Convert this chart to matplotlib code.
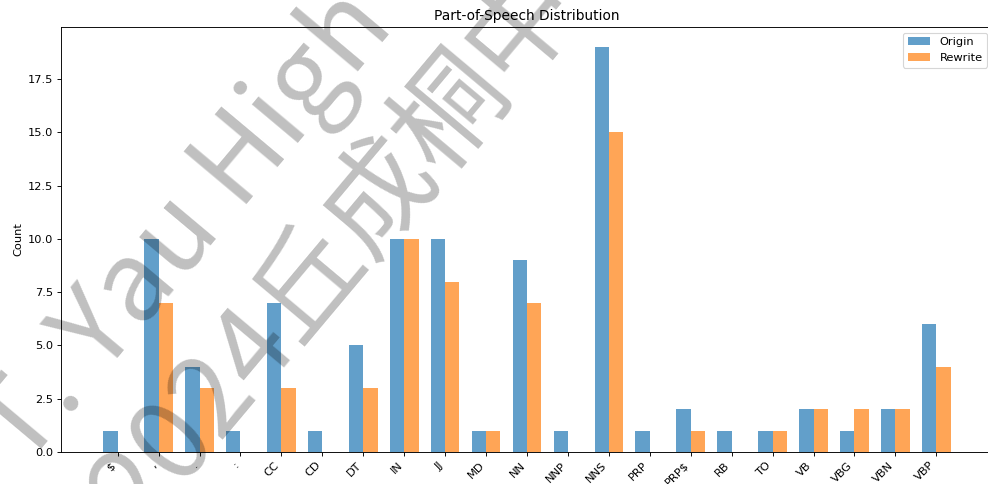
import numpy as np
import matplotlib
matplotlib.use("Agg")
import matplotlib.pyplot as plt
from matplotlib.font_manager import FontProperties

# Part-of-speech tag counts
tags = ["$", ",", ".", ":", "CC", "CD", "DT", "IN", "JJ", "MD", "NN", "NNP",
        "NNS", "PRP", "PRP$", "RB", "TO", "VB", "VBG", "VBN", "VBP"]
origin_counts = [1, 10, 4, 1, 7, 1, 5, 10, 10, 1, 9, 1, 19, 1, 2, 1, 1, 2, 1, 2, 6]
rewrite_counts = [0, 7, 3, 0, 3, 0, 3, 10, 8, 1, 7, 0, 15, 0, 1, 0, 1, 2, 2, 2, 4]

# overall scale of fonts and strokes for this compact canvas
s = 0.823
plt.rcParams.update({
    "font.size": 10 * s,
    "axes.titlesize": 12 * s,
    "axes.linewidth": 0.8 * s,
    "xtick.major.size": 3.5 * s,
    "ytick.major.size": 3.5 * s,
    "xtick.major.width": 0.8 * s,
    "ytick.major.width": 0.8 * s,
    "xtick.major.pad": 3.5 * s,
    "ytick.major.pad": 3.5 * s,
    "axes.titlepad": 6 * s,
    "axes.labelpad": 4 * s,
    "legend.fontsize": 10 * s,
    "patch.linewidth": 1.0 * s,
})

W, H = 988, 484
fig = plt.figure(figsize=(W / 100, H / 100), dpi=100)
# the right edge of the axes runs just past the canvas
ax = fig.add_axes([61 / W, (H - 452) / H, (993 - 61) / W, (452 - 27) / H])

x = np.arange(len(tags))
width = 0.35
ax.bar(x - width / 2, origin_counts, width, label="Origin", color="#1f77b4", alpha=0.7)
ax.bar(x + width / 2, rewrite_counts, width, label="Rewrite", color="#ff7f0e", alpha=0.7)
ax.set_xticks(x)
ax.set_xticklabels(tags, rotation=45, ha="right")
ax.set_ylabel("Count")
ax.set_title("Part-of-Speech Distribution", x=(527 - 61) / (993 - 61))
ax.legend(loc="upper right")

# Diagonal watermark
theta_deg = 50
theta = np.deg2rad(theta_deg)
fp = FontProperties(family=["Noto Sans CJK SC", "DejaVu Sans"], size=80, weight="light")
renderer = fig.canvas.get_renderer()


def text_w(txt):
    return renderer.get_text_width_height_descent(txt, fp, ismath=False)[0]


u = np.array([np.cos(theta), np.sin(theta)])      # along the baseline
nrm = np.array([-np.sin(theta), np.cos(theta)])   # glyph "up"

line1 = "S.-T. Yau High School Science Award"
line2 = "2024丘成桐中学科学奖"

# line 1: the "H" of "High" sits at a fixed spot
h_anchor = np.array([240.0, H - 212.0])
pre1 = text_w("S.-T. Yau High") - text_w("High")
start1 = h_anchor - pre1 * u

# line 2: the centre of "丘"
em = 80 * 100 / 72
qiu_center = np.array([302.0, H - 275.0])
qiu_left = qiu_center - 0.5 * text_w("丘") * u - 0.38 * em * nrm
pre2 = text_w("2024丘") - text_w("丘")
start2 = qiu_left - pre2 * u

for start, txt in [(start1, line1), (start2, line2)]:
    fig.text(start[0] / W, start[1] / H, txt, fontproperties=fp,
             rotation=theta_deg, rotation_mode="anchor",
             ha="left", va="baseline", color="black", alpha=0.25, zorder=10)

fig.savefig("out.png", dpi=100)
